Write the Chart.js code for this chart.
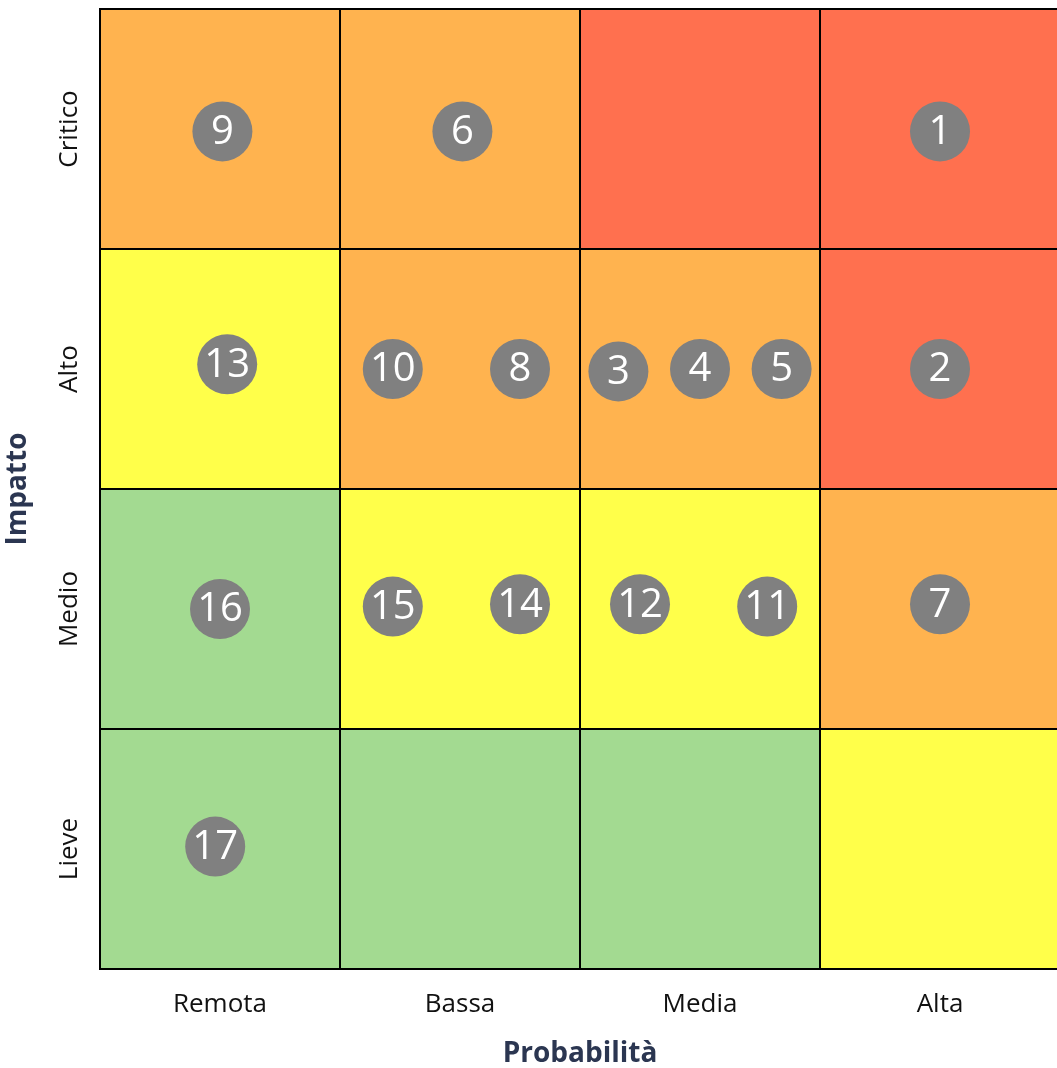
<!DOCTYPE html>
<html>
<head>
<meta charset="utf-8">
<script src="https://cdn.jsdelivr.net/npm/chart.js@4.4.1/dist/chart.umd.min.js"></script>
<style>
  html, body { margin: 0; padding: 0; background: #fff; overflow: hidden; }
  #wrap { width: 1060px; height: 1068px; }
</style>
</head>
<body>
<div id="wrap"><canvas id="chart"></canvas></div>
<script>
// Axis categories
const probLabels = ['Remota', 'Bassa', 'Media', 'Alta'];
const impactLabels = ['Lieve', 'Medio', 'Alto', 'Critico'];

// Cell colours, rows from Lieve (bottom) to Critico (top)
const GREEN = '#a3da91', YELLOW = '#ffff4a', ORANGE = '#ffb34f', RED = '#ff704f';
const cellColors = [
  [GREEN, GREEN, GREEN, YELLOW],
  [GREEN, YELLOW, YELLOW, ORANGE],
  [YELLOW, ORANGE, ORANGE, RED],
  [ORANGE, ORANGE, RED, RED]
];

// Risks: id, probability position, impact position
const riskIds = [9, 6, 1, 13, 10, 8, 3, 4, 5, 2, 16, 15, 14, 12, 11, 7, 17];
const riskX = [0.51, 1.51, 3.5, 0.53, 1.22, 1.75, 2.16, 2.5, 2.84, 3.5, 0.5, 1.22, 1.75, 2.25, 2.78, 3.5, 0.48];
const riskY = [3.49, 3.49, 3.49, 2.52, 2.5, 2.5, 2.49, 2.5, 2.5, 2.5, 1.5, 1.51, 1.52, 1.52, 1.51, 1.52, 0.51];

const points = riskIds.map((id, i) => ({ x: riskX[i], y: riskY[i] }));

const FONT = '"Open Sans", "Noto Sans", sans-serif';

// draws the coloured cells and the black grid
const cellsPlugin = {
  id: 'cells',
  beforeDatasetsDraw(chart) {
    const { ctx, scales: { x, y } } = chart;
    ctx.save();
    for (let r = 0; r < impactLabels.length; r++) {
      for (let c = 0; c < probLabels.length; c++) {
        const x0 = x.getPixelForValue(c), x1 = x.getPixelForValue(c + 1);
        const y0 = y.getPixelForValue(r + 1), y1 = y.getPixelForValue(r);
        ctx.fillStyle = cellColors[r][c];
        ctx.fillRect(x0, y0, x1 - x0, y1 - y0);
      }
    }
    ctx.strokeStyle = '#000';
    ctx.lineWidth = 2;
    for (let r = 0; r < impactLabels.length; r++) {
      for (let c = 0; c < probLabels.length; c++) {
        const x0 = x.getPixelForValue(c), x1 = x.getPixelForValue(c + 1);
        const y0 = y.getPixelForValue(r + 1), y1 = y.getPixelForValue(r);
        ctx.strokeRect(x0, y0, x1 - x0, y1 - y0);
      }
    }
    ctx.restore();
  }
};

// writes the risk number inside each circle
const idPlugin = {
  id: 'ids',
  afterDatasetsDraw(chart) {
    const { ctx } = chart;
    const meta = chart.getDatasetMeta(0);
    ctx.save();
    ctx.fillStyle = '#fff';
    ctx.font = '40px ' + FONT;
    ctx.textAlign = 'center';
    ctx.textBaseline = 'middle';
    meta.data.forEach((pt, i) => {
      ctx.fillText(String(riskIds[i]), pt.x, pt.y + 1);
    });
    ctx.restore();
  }
};

new Chart(document.getElementById('chart'), {
  type: 'scatter',
  data: {
    datasets: [{
      data: points,
      backgroundColor: '#808080',
      borderWidth: 0,
      pointRadius: 30,
      pointHoverRadius: 30
    }]
  },
  options: {
    responsive: true,
    maintainAspectRatio: false,
    animation: false,
    events: [],
    layout: { autoPadding: false, padding: { top: 9, right: 0, left: 0, bottom: 0 } },
    plugins: { legend: { display: false }, tooltip: { enabled: false } },
    scales: {
      x: {
        type: 'linear',
        min: 0,
        max: 4,
        grid: { display: false },
        border: { display: false },
        afterBuildTicks: (s) => { s.ticks = probLabels.map((_, i) => ({ value: i + 0.5 })); },
        afterFit: (s) => { s.height = 99; },
        ticks: {
          padding: 12,
          color: '#111',
          font: { family: FONT, size: 26 },
          callback: (v) => probLabels[Math.floor(v)]
        },
        title: {
          display: true,
          text: 'Probabilità',
          color: '#2b3651',
          font: { family: FONT, size: 28, weight: 'bold', lineHeight: 1 },
          padding: { top: 0, bottom: 0 }
        }
      },
      y: {
        type: 'linear',
        min: 0,
        max: 4,
        grid: { display: false },
        border: { display: false },
        afterBuildTicks: (s) => { s.ticks = impactLabels.map((_, i) => ({ value: i + 0.5 })); },
        afterFit: (s) => { s.width = 100; },
        ticks: {
          minRotation: 90,
          maxRotation: 90,
          crossAlign: 'center',
          padding: -16,
          color: '#111',
          font: { family: FONT, size: 26 },
          callback: (v) => impactLabels[Math.floor(v)]
        },
        title: {
          display: true,
          text: 'Impatto',
          color: '#2b3651',
          font: { family: FONT, size: 28, weight: 'bold', lineHeight: 1 },
          padding: { top: 4, bottom: 0 }
        }
      }
    }
  },
  plugins: [cellsPlugin, idPlugin]
});
</script>
</body>
</html>
